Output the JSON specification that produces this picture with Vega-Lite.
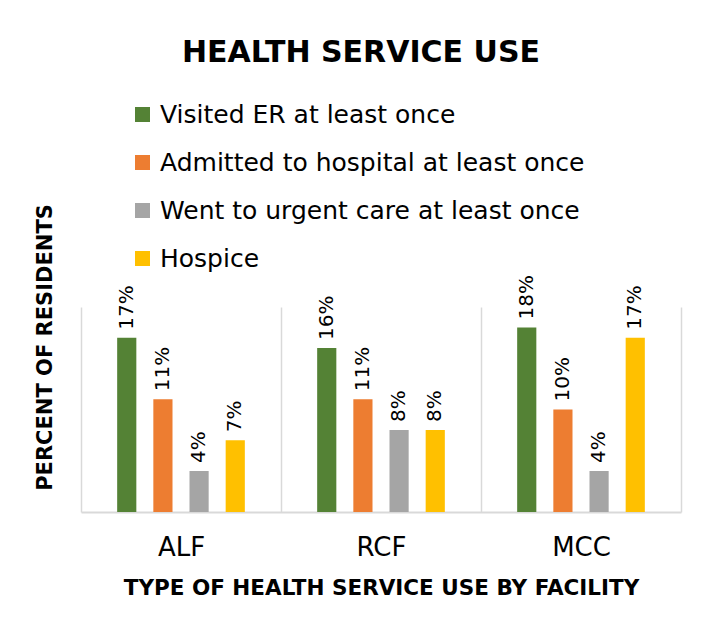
{
  "$schema": "https://vega.github.io/schema/vega-lite/v6.json",
  "autosize": "none",
  "width": 600,
  "height": 205,
  "padding": {"left": 81, "top": 307, "right": 31, "bottom": 117},
  "background": "white",
  "title": {
    "text": "HEALTH SERVICE USE",
    "font": "DejaVu Sans",
    "fontWeight": "bold",
    "fontSize": 30,
    "color": "#000000",
    "anchor": "middle",
    "dx": -20,
    "offset": 34
  },
  "data": {
    "values": [
      {"facility": "ALF", "type": "Visited ER at least once", "value": 0.17},
      {"facility": "ALF", "type": "Admitted to hospital at least once", "value": 0.11},
      {"facility": "ALF", "type": "Went to urgent care at least once", "value": 0.04},
      {"facility": "ALF", "type": "Hospice", "value": 0.07},
      {"facility": "RCF", "type": "Visited ER at least once", "value": 0.16},
      {"facility": "RCF", "type": "Admitted to hospital at least once", "value": 0.11},
      {"facility": "RCF", "type": "Went to urgent care at least once", "value": 0.08},
      {"facility": "RCF", "type": "Hospice", "value": 0.08},
      {"facility": "MCC", "type": "Visited ER at least once", "value": 0.18},
      {"facility": "MCC", "type": "Admitted to hospital at least once", "value": 0.10},
      {"facility": "MCC", "type": "Went to urgent care at least once", "value": 0.04},
      {"facility": "MCC", "type": "Hospice", "value": 0.17}
    ]
  },
  "encoding": {
    "x": {
      "field": "facility",
      "type": "nominal",
      "sort": ["ALF", "RCF", "MCC"],
      "scale": {"paddingInner": 0, "paddingOuter": 0},
      "axis": {
        "title": "TYPE OF HEALTH SERVICE USE BY FACILITY",
        "titleFont": "DejaVu Sans",
        "titleFontWeight": "bold",
        "titleFontSize": 21.5,
        "titleColor": "#000000",
        "titlePadding": 17,
        "labelFont": "DejaVu Sans",
        "labelFontSize": 26,
        "labelColor": "#000000",
        "labelAngle": 0,
        "labelPadding": 22,
        "ticks": false,
        "tickBand": "extent",
        "grid": true,
        "gridColor": "#d9d9d9",
        "gridWidth": 1.5,
        "domainColor": "#d9d9d9",
        "domainWidth": 2
      }
    },
    "xOffset": {
      "field": "type",
      "type": "nominal",
      "sort": ["Visited ER at least once", "Admitted to hospital at least once", "Went to urgent care at least once", "Hospice"],
      "scale": {"paddingInner": 0.47, "paddingOuter": 1.175}
    },
    "y": {
      "field": "value",
      "type": "quantitative",
      "scale": {"domain": [0, 0.2]},
      "axis": {
        "title": "PERCENT OF RESIDENTS",
        "titleFont": "DejaVu Sans",
        "titleFontWeight": "bold",
        "titleFontSize": 21,
        "titleColor": "#000000",
        "titleX": -36,
        "titleY": 40,
        "titleAlign": "center",
        "titleBaseline": "middle",
        "titleAngle": 270,
        "labels": false,
        "ticks": false,
        "domain": false,
        "grid": false
      }
    }
  },
  "layer": [
    {
      "mark": {"type": "bar"},
      "encoding": {
        "color": {
          "field": "type",
          "type": "nominal",
          "sort": ["Visited ER at least once", "Admitted to hospital at least once", "Went to urgent care at least once", "Hospice"],
          "scale": {
            "domain": ["Visited ER at least once", "Admitted to hospital at least once", "Went to urgent care at least once", "Hospice"],
            "range": ["#548235", "#ED7D31", "#A5A5A5", "#FFC000"]
          },
          "legend": {
            "title": null,
            "orient": "none",
            "legendX": 49,
            "legendY": -205,
            "symbolType": "square",
            "symbolSize": 225,
            "symbolStrokeWidth": 0,
            "labelFont": "DejaVu Sans",
            "labelFontSize": 25,
            "labelColor": "#000000",
            "labelLimit": 600,
            "rowPadding": 22,
            "labelOffset": 5
          }
        }
      }
    },
    {
      "mark": {
        "type": "text",
        "angle": 270,
        "align": "left",
        "baseline": "middle",
        "dx": 8,
        "font": "DejaVu Sans",
        "fontSize": 20,
        "color": "#000000"
      },
      "encoding": {
        "text": {"field": "value", "type": "quantitative", "format": ".0%"},
        "detail": {"field": "type"}
      }
    }
  ],
  "config": {
    "view": {"stroke": null}
  }
}
